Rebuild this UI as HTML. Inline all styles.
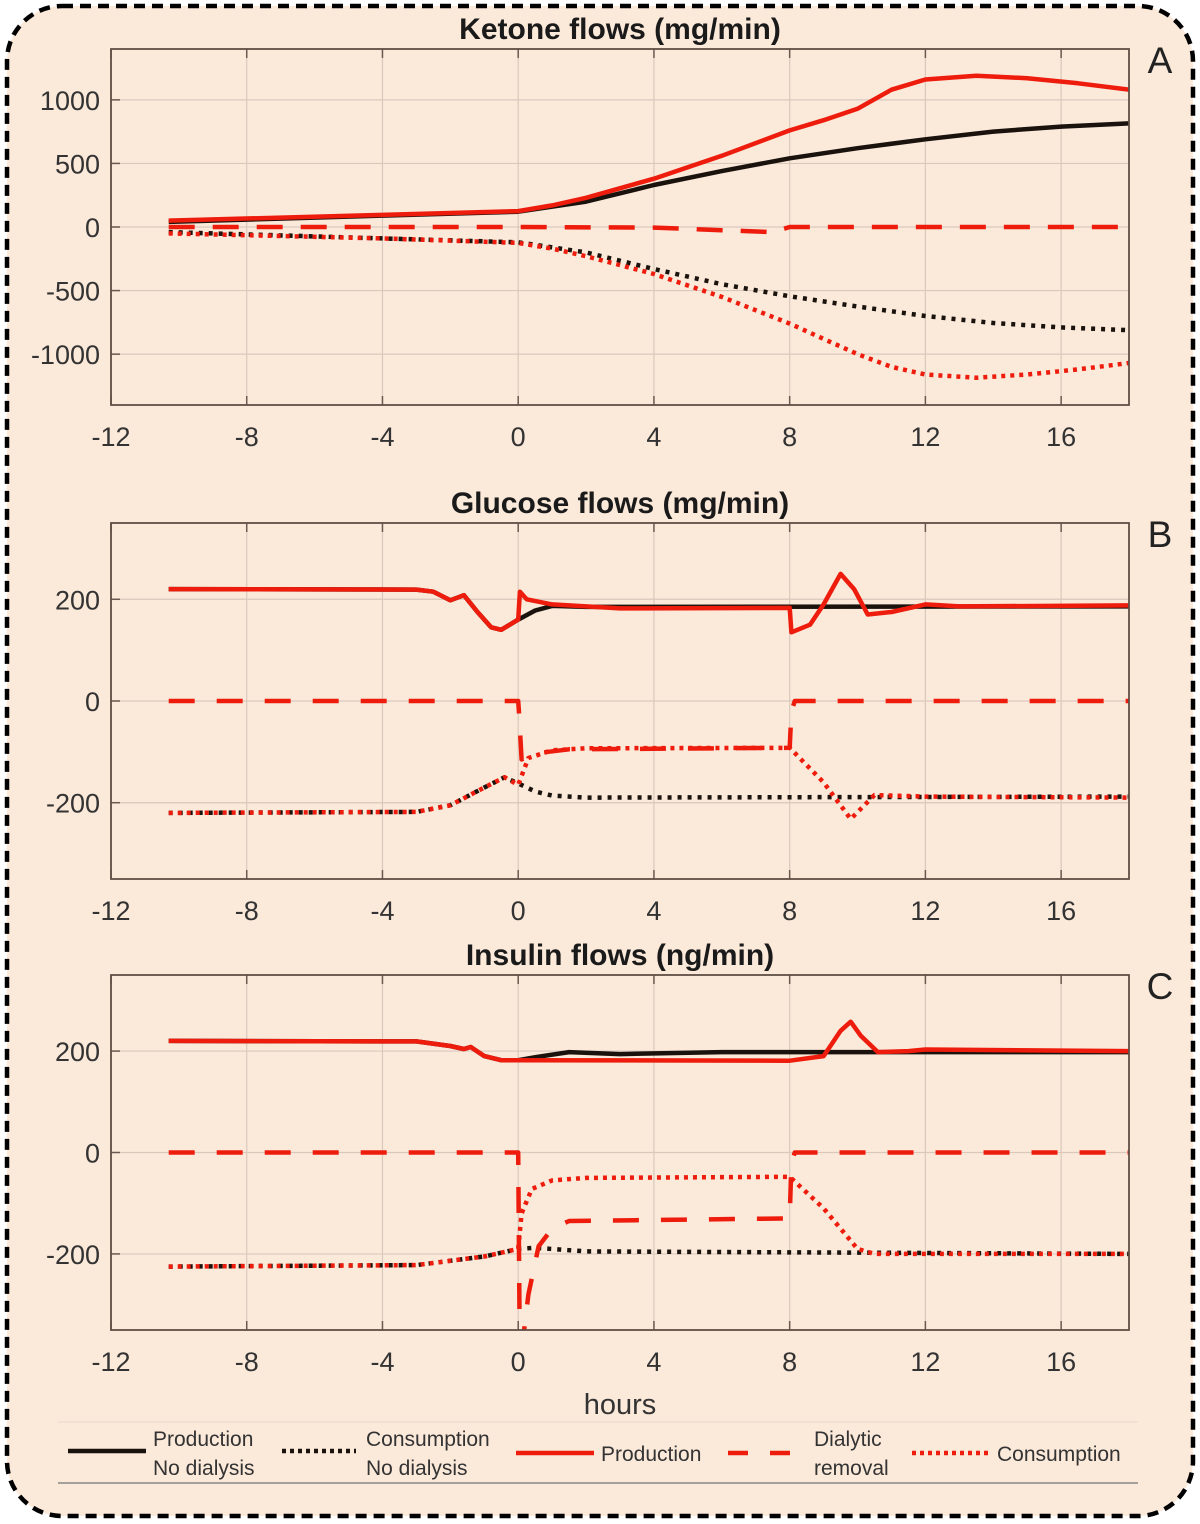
<!DOCTYPE html>
<html><head><meta charset="utf-8"><style>
html,body{margin:0;padding:0;background:#fff;}
svg{display:block;font-family:"Liberation Sans",sans-serif;}
</style></head><body>
<svg id="fig" width="1200" height="1524" viewBox="0 0 1200 1524">
<rect x="7" y="6" width="1186" height="1510" rx="55" ry="55" fill="#fbe9da" stroke="#000" stroke-width="4.5" stroke-dasharray="11,7"/>
<g id="panels"></g>
<text x="620" y="1414" font-size="29" fill="#333" text-anchor="middle">hours</text>
<g>
<line x1="58" y1="1422" x2="1138" y2="1422" stroke="#e8d8cc" stroke-width="1"/>
<line x1="58" y1="1483" x2="1138" y2="1483" stroke="#888" stroke-width="1.5"/>
<g><line x1="68" y1="1451" x2="146" y2="1451" stroke="#1a120c" stroke-width="4.5"/><text x="153" y="1446" font-size="21" fill="#333">Production</text><text x="153" y="1475" font-size="21" fill="#333">No dialysis</text></g>
<g><line x1="282" y1="1451" x2="356" y2="1451" stroke="#1a120c" stroke-width="4.5" stroke-dasharray="4,4"/><text x="366" y="1446" font-size="21" fill="#333">Consumption</text><text x="366" y="1475" font-size="21" fill="#333">No dialysis</text></g>
<g><line x1="516" y1="1453" x2="594" y2="1453" stroke="#ee1c0c" stroke-width="4.5"/><text x="601" y="1461" font-size="21" fill="#333">Production</text></g>
<g><line x1="728" y1="1453" x2="800" y2="1453" stroke="#ee1c0c" stroke-width="4.5" stroke-dasharray="20,22"/><text x="814" y="1446" font-size="21" fill="#333">Dialytic</text><text x="814" y="1475" font-size="21" fill="#333">removal</text></g>
<g><line x1="912" y1="1453" x2="992" y2="1453" stroke="#ee1c0c" stroke-width="4.5" stroke-dasharray="4,4"/><text x="997" y="1461" font-size="21" fill="#333">Consumption</text></g>
</g>
</svg>
<script>
// X ticks shared
const xTicks = [-12,-8,-4,0,4,8,12,16];
// Panel A: Ketone
const ketTicks = [1000,500,0,-500,-1000];
const ketProdNoT = [-10.3,-4,0,2,4,6,8,10,12,14,16,18];
const ketProdNoV = [40,90,120,200,330,440,540,620,690,750,790,815];
const ketConsNoT = [-10.3,-4,0,2,4,6,8,10,12,14,16,18];
const ketConsNoV = [-40,-90,-120,-200,-330,-450,-545,-625,-700,-755,-790,-812];
const ketProdT = [-10.3,-4,0,1,2,4,6,8,9,10,11,12,13.5,15,16.5,18];
const ketProdV = [50,95,125,170,230,380,560,760,840,930,1080,1160,1190,1170,1130,1080];
const ketDialT = [-10.3,0,4,6,7.5,8,18];
const ketDialV = [0,0,-5,-25,-40,0,0];
const ketConsT = [-10.3,-4,0,1,2,4,6,8,9,10,11,12,13.5,15,16.5,18];
const ketConsV = [-50,-90,-125,-170,-230,-370,-550,-760,-880,-1000,-1100,-1160,-1185,-1160,-1120,-1070];
// Panel B: Glucose
const gluTicks = [200,0,-200];
const gluProdNoT = [-10.3,-3,-2.5,-2,-1.6,-1.2,-0.8,-0.5,0,0.5,1,2,18];
const gluProdNoV = [220,219,215,198,208,175,145,140,160,178,187,185,186];
const gluConsNoT = [-10.3,-3,-2,-1,-0.4,0,0.5,1,2,18];
const gluConsNoV = [-220,-218,-205,-170,-150,-162,-178,-186,-190,-188];
const gluProdT = [-10.3,-3,-2.5,-2,-1.6,-1.2,-0.8,-0.5,0,0.05,0.25,1,3,8,8.05,8.6,9,9.5,9.9,10.3,11,12,13,18];
const gluProdV = [220,219,215,198,208,175,145,140,160,215,200,190,182,183,135,150,190,250,220,170,175,190,186,188];
const gluDialT = [-10.3,0,0.02,0.1,0.5,1.5,8,8.05,8.15,18];
const gluDialV = [0,0,-20,-115,-103,-95,-92,-20,0,0];
const gluConsT = [-10.3,-3,-2,-1,-0.4,0,0.3,1,2,8,9,9.8,10.5,12,18];
const gluConsV = [-220,-218,-205,-170,-150,-165,-112,-97,-93,-92,-160,-232,-185,-188,-190];
// Panel C: Insulin
const insTicks = [200,0,-200];
const insProdNoT = [-10.3,-3,-2,-1.6,-1.4,-1,-0.5,0,0.5,1.5,3,6,18];
const insProdNoV = [220,219,210,204,208,190,182,182,188,198,194,198,198];
const insConsNoT = [-10.3,-3,-1,0,0.5,2,18];
const insConsNoV = [-225,-222,-205,-190,-188,-195,-200];
const insProdT = [-10.3,-3,-2,-1.6,-1.4,-1,-0.5,8,9,9.5,9.8,10.1,10.6,11.5,12,18];
const insProdV = [220,219,210,204,208,190,182,181,190,240,258,230,198,200,203,200];
const insDialT = [-10.3,0,0.05,0.3,0.6,1,1.5,8,8.05,8.15,18];
const insDialV = [0,0,-420,-280,-185,-150,-135,-130,-20,0,0];
const insConsT = [-10.3,-3,-1,0,0.1,0.4,1,2,8,9,10,10.5,18];
const insConsV = [-225,-222,-205,-190,-120,-72,-55,-50,-48,-110,-190,-200,-200];

const NS='http://www.w3.org/2000/svg';
const root=document.getElementById('panels');
function mk(tag,attrs,parent){const e=document.createElementNS(NS,tag);for(const k in attrs)e.setAttribute(k,attrs[k]);parent.appendChild(e);return e;}
const X0=111,X1=1129,TMIN=-12,TMAX=18;
function xs(t){return X0+(t-TMIN)/(TMAX-TMIN)*(X1-X0);}
let clipN=0;
function panel(key,title,letter,top,bot,ymin,ymax,yTicks,series){
  const g=mk('g',{},root);
  
  
  const ys=v=>bot-(v-ymin)/(ymax-ymin)*(bot-top);
  xTicks.forEach(t=>{const l=mk('line',{x1:xs(t),x2:xs(t),y1:top,y2:bot,stroke:'#d9c9bd','stroke-width':1.2},g);
    
    mk('line',{x1:xs(t),x2:xs(t),y1:top,y2:top+9,stroke:'#6a5a50','stroke-width':1.5},g);
    mk('line',{x1:xs(t),x2:xs(t),y1:bot,y2:bot-9,stroke:'#6a5a50','stroke-width':1.5},g);
    const tx=mk('text',{x:xs(t),y:bot+41,'font-size':27,fill:'#333','text-anchor':'middle'},g);tx.textContent=t;
    });
  yTicks.forEach(v=>{const l=mk('line',{x1:X0,x2:X1,y1:ys(v),y2:ys(v),stroke:'#d9c9bd','stroke-width':1.2},g);
    
    mk('line',{x1:X0,x2:X0+9,y1:ys(v),y2:ys(v),stroke:'#6a5a50','stroke-width':1.5},g);
    const tx=mk('text',{x:X0-11,y:ys(v)+10,'font-size':27,fill:'#333','text-anchor':'end'},g);tx.textContent=v;
    });
  const id='clip'+(clipN++);
  const cp=mk('clipPath',{id:id},g);mk('rect',{x:X0,y:top,width:X1-X0,height:bot-top},cp);
  const sg=mk('g',{'clip-path':'url(#'+id+')'},g);
  series.forEach(s=>{
    const pts=s.t.map((t,i)=>xs(t).toFixed(1)+','+ys(s.v[i]).toFixed(1)).join(' ');
    const p=mk('polyline',{points:pts,fill:'none',stroke:s.c,'stroke-width':s.w||4.5,'stroke-dasharray':s.d||'none','stroke-linejoin':'round'},sg);
    
    
  });
  const fr=mk('rect',{x:X0,y:top,width:X1-X0,height:bot-top,fill:'none',stroke:'#5e4e44','stroke-width':1.8},g);
  
  const tt=mk('text',{x:620,y:top-10,'font-size':30,'font-weight':'bold',fill:'#1a1a1a','text-anchor':'middle'},g);tt.textContent=title;
  
  const lt=mk('text',{x:1160,y:top+24,'font-size':37,fill:'#222','text-anchor':'middle'},g);lt.textContent=letter;
  
}
const BK='#1a120c',RD='#ee1c0c';
panel('ketone','Ketone flows (mg/min)','A',49,405,-1400,1400,ketTicks,[
 {t:ketConsNoT,v:ketConsNoV,c:BK,d:'4,6',n:'ketone-consumption-no-dialysis-line'},
 {t:ketProdNoT,v:ketProdNoV,c:BK,n:'ketone-production-no-dialysis-line'},
 {t:ketDialT,v:ketDialV,c:RD,d:'26,18',n:'ketone-dialytic-removal-line'},
 {t:ketConsT,v:ketConsV,c:RD,d:'4,5',n:'ketone-consumption-line'},
 {t:ketProdT,v:ketProdV,c:RD,n:'ketone-production-line'}]);
panel('glucose','Glucose flows (mg/min)','B',523,879,-350,350,gluTicks,[
 {t:gluConsNoT,v:gluConsNoV,c:BK,d:'4,6',n:'glucose-consumption-no-dialysis-line'},
 {t:gluProdNoT,v:gluProdNoV,c:BK,n:'glucose-production-no-dialysis-line'},
 {t:gluDialT,v:gluDialV,c:RD,d:'26,22',n:'glucose-dialytic-removal-line'},
 {t:gluConsT,v:gluConsV,c:RD,d:'4,5',n:'glucose-consumption-line'},
 {t:gluProdT,v:gluProdV,c:RD,n:'glucose-production-line'}]);
panel('insulin','Insulin flows (ng/min)','C',975,1330,-350,350,insTicks,[
 {t:insConsNoT,v:insConsNoV,c:BK,d:'4,6',n:'insulin-consumption-no-dialysis-line'},
 {t:insProdNoT,v:insProdNoV,c:BK,n:'insulin-production-no-dialysis-line'},
 {t:insDialT,v:insDialV,c:RD,d:'26,22',n:'insulin-dialytic-removal-line'},
 {t:insConsT,v:insConsV,c:RD,d:'4,5',n:'insulin-consumption-line'},
 {t:insProdT,v:insProdV,c:RD,n:'insulin-production-line'}]);
</script>
</body></html>
